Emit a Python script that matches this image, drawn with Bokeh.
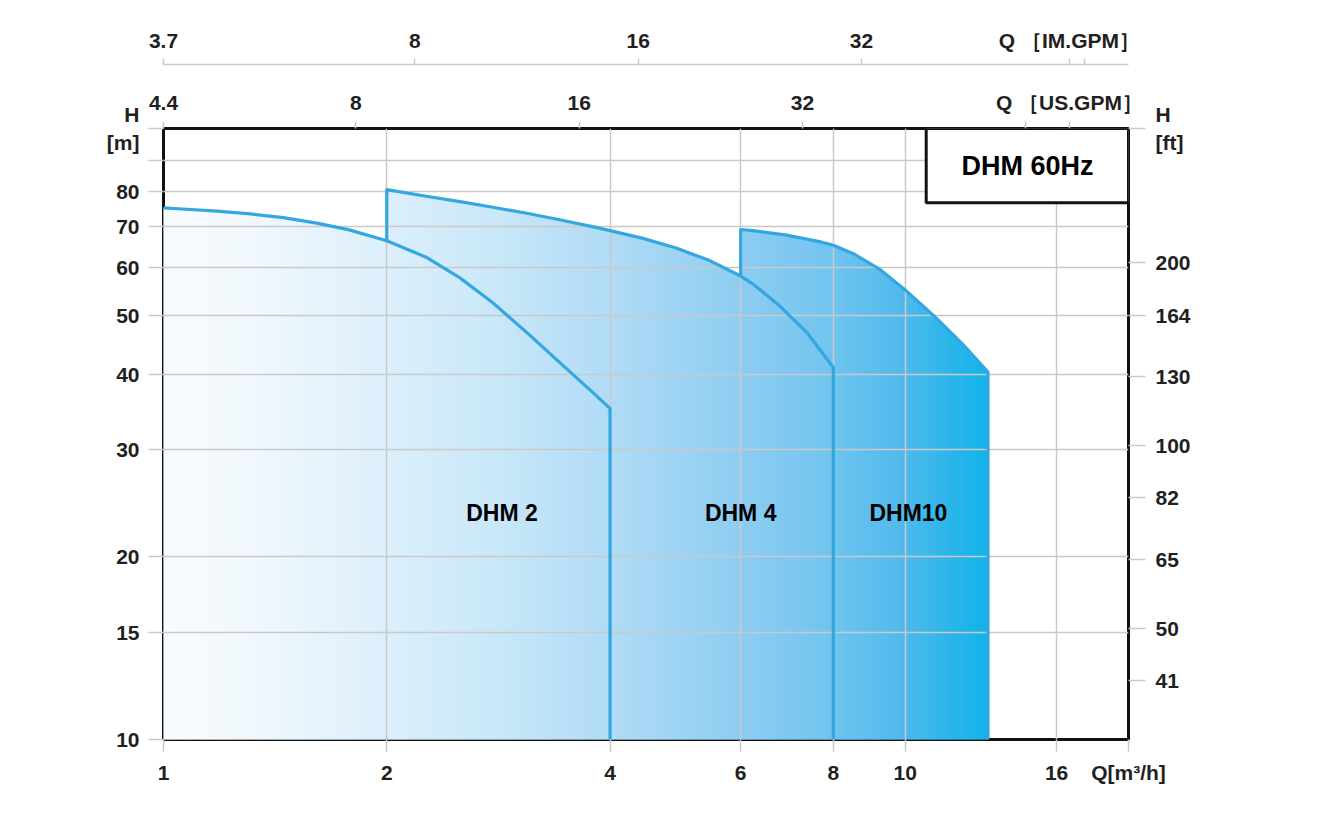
import numpy as np
from bokeh.plotting import figure
from bokeh.models import (Range1d, LogAxis, FixedTicker, Label, BoxAnnotation,
                          LogScale, ColumnDataSource)
from bokeh.embed import file_html
from bokeh.resources import INLINE

# ---------------- data ----------------
dhm2_q = [1, 1.06, 1.18, 1.31, 1.45, 1.61, 1.78, 2, 2.26, 2.51, 2.78, 3.09, 3.42, 3.8, 4]
dhm2_h = [75.1, 74.8, 74.2, 73.4, 72.4, 70.9, 69.1, 66.3, 62.3, 57.6, 52.4, 46.8, 41.8, 37.2, 35.1]
dhm4_q = [2, 2.26, 2.51, 2.78, 3.09, 3.42, 3.8, 4, 4.43, 4.91, 5.45, 6, 6.23, 6.77, 7.36, 8]
dhm4_h = [80.5, 78.5, 76.9, 75.3, 73.6, 71.8, 69.9, 68.9, 66.9, 64.5, 61.5, 58.0, 56.3, 51.8, 46.9, 41.0]
dhm10_q = [6, 6.23, 6.89, 7.66, 8, 8.5, 9.22, 10, 10.96, 11.95, 12.93]
dhm10_h = [69.2, 68.9, 67.8, 66.1, 65.2, 63.2, 59.6, 55.0, 49.7, 44.8, 40.3]

series_names = ["DHM 2", "DHM 4", "DHM10"]
label_q = [2.86, 6.0, 10.1]
label_h = [23.6, 23.6, 23.6]

M_TO_FT = 3.28
M3H_TO_US = 4.403
M3H_TO_IM = 3.666
X0, X1 = 1, 20
Y0, Y1 = 10, 101.5
Q_TITLE = 16.65   # m3/h position under which the GPM axis titles are centred

x_ticks = [1, 2, 4, 6, 8, 10, 16, X1]
x_tick_labels = ["1", "2", "4", "6", "8", "10", "16", "Q[m³/h]"]
y_ticks = [10, 15, 20, 30, 40, 50, 60, 70, 80, 90, Y1]
y_tick_labels = ["10", "15", "20", "30", "40", "50", "60", "70", "80", "", "H\n[m]"]
ft_ticks = [41, 50, 65, 82, 100, 130, 164, 200, Y1 * M_TO_FT]
ft_tick_labels = ["41", "50", "65", "82", "100", "130", "164", "200", "H\n[ft]"]
us_ticks = [4.403, 8, 16, 32, 64, Q_TITLE * M3H_TO_US]
us_tick_labels = ["4.4", "8", "16", "32", "", "Q ［US.GPM］"]
im_ticks = [3.666, 8, 16, 32, Q_TITLE * M3H_TO_IM, 64]
im_tick_labels = ["3.7", "8", "16", "32", "Q ［IM.GPM］", ""]

# ---------------- style ----------------
GRID = "#C9C9C9"
LINE = "#35A7E0"
TXT = "#231F20"
FONT = "Liberation Sans"
grad_q = [1, 1.3, 2, 2.85, 4, 6, 8, 10, 13]
grad_col = ["#F6FBFE", "#F1F8FD", "#DCEFFB", "#C8E7F9", "#B0DBF5",
            "#8ECDF1", "#70C4EF", "#4DBAEC", "#10B2E8"]

# frame placement (pixels)
FR_L, FR_R, FR_T, FR_B = 163, 1128, 128, 739
W, H = 1310, 795


def q_at(px):
    return 10 ** (np.log10(X0) + (px - FR_L) / (FR_R - FR_L) * np.log10(X1 / X0))


def h_at(py):
    return 10 ** (np.log10(Y0) + (FR_B - py) / (FR_B - FR_T) * np.log10(Y1 / Y0))


def hex2rgb(h):
    return [int(h[i:i + 2], 16) for i in (1, 3, 5)]


grad_rgb = np.array([hex2rgb(c) for c in grad_col], dtype=float)
grad_lq = np.log10(grad_q)


def color_at(lq):
    r, g, b = [int(round(np.interp(lq, grad_lq, grad_rgb[:, k]))) for k in range(3)]
    return "#%02X%02X%02X" % (r, g, b)


p = figure(width=W, height=H, x_axis_type="log", y_axis_type="log",
           x_range=Range1d(X0, X1), y_range=Range1d(Y0, Y1),
           output_backend="svg", toolbar_location=None,
           min_border_left=FR_L, min_border_right=W - FR_R,
           min_border_top=FR_T, min_border_bottom=H - FR_B)
p.outline_line_color = "#111111"
p.outline_line_width = 3
p.background_fill_color = "white"
p.border_fill_color = "white"


def style_axis(ax, ticks, labels, tick_out, standoff):
    ax.ticker = FixedTicker(ticks=ticks, minor_ticks=[])
    ax.major_label_overrides = {t: l for t, l in zip(ticks, labels)}
    ax.axis_line_color = None
    ax.major_tick_line_color = GRID
    ax.major_tick_line_width = 1.5
    ax.major_tick_in = 0
    ax.major_tick_out = tick_out
    ax.minor_tick_line_color = None
    ax.major_label_standoff = standoff
    ax.major_label_text_font = FONT
    ax.major_label_text_font_size = "21px"
    ax.major_label_text_font_style = "bold"
    ax.major_label_text_color = TXT


style_axis(p.xaxis[0], x_ticks, x_tick_labels, 12, 9)
style_axis(p.yaxis[0], y_ticks, y_tick_labels, 15, 9)

p.xgrid[0].ticker = FixedTicker(ticks=x_ticks[1:-1], minor_ticks=[])
p.ygrid[0].ticker = FixedTicker(ticks=y_ticks[1:-1], minor_ticks=[])
for g in (p.xgrid[0], p.ygrid[0]):
    g.grid_line_color = GRID
    g.grid_line_width = 1.5

# right axis in ft
p.extra_y_ranges = {"ft": Range1d(Y0 * M_TO_FT, Y1 * M_TO_FT)}
p.extra_y_scales = {"ft": LogScale()}
rax = LogAxis(y_range_name="ft")
style_axis(rax, ft_ticks, ft_tick_labels, 17, 10)
p.add_layout(rax, "right")

# top axes in GPM
p.extra_x_ranges = {"us": Range1d(X0 * M3H_TO_US, X1 * M3H_TO_US),
                    "im": Range1d(X0 * M3H_TO_IM, X1 * M3H_TO_IM)}
p.extra_x_scales = {"us": LogScale(), "im": LogScale()}
us_ax = LogAxis(x_range_name="us")
style_axis(us_ax, us_ticks, us_tick_labels, 7, 8)
us_ax.axis_label = " "
us_ax.axis_label_text_font_size = "2px"
us_ax.axis_label_standoff = 18
us_ax.axis_label_text_color = None
p.add_layout(us_ax, "above")
im_ax = LogAxis(x_range_name="im")
style_axis(im_ax, im_ticks, im_tick_labels, 6, 7)
im_ax.axis_line_color = GRID
im_ax.axis_line_width = 1.5
p.add_layout(im_ax, "above")

# ---------------- gradient fill under the envelope ----------------
segments = [(dhm2_q, dhm2_h, dhm2_q[0], dhm4_q[0]),
            (dhm4_q, dhm4_h, dhm4_q[0], dhm10_q[0]),
            (dhm10_q, dhm10_h, dhm10_q[0], dhm10_q[-1])]
xs_list, ys_list, cols = [], [], []
for q, h, a, b in segments:
    n = max(2, int(round(np.log10(b / a) * 320)))
    lx = np.linspace(np.log10(a), np.log10(b), n + 1)
    ly = np.interp(lx, np.log10(q), np.log10(h))
    for i in range(n):
        xa, xb = 10 ** lx[i], 10 ** lx[i + 1]
        xs_list.append([xa, xa, xb, xb])
        ys_list.append([Y0, 10 ** ly[i], 10 ** ly[i + 1], Y0])
        cols.append(color_at(0.5 * (lx[i] + lx[i + 1])))
fill_src = ColumnDataSource(dict(xs=xs_list, ys=ys_list, c=cols))
fr = p.patches("xs", "ys", source=fill_src, fill_color="c", line_color="c", line_width=1)
fr.level = "image"

# ---------------- curves ----------------
h2_at_2 = dhm2_h[dhm2_q.index(dhm4_q[0])]
h4_at_6 = dhm4_h[dhm4_q.index(dhm10_q[0])]
curves = [
    (dhm2_q + [dhm2_q[-1]], dhm2_h + [Y0]),
    ([dhm4_q[0]] + dhm4_q + [dhm4_q[-1]], [h2_at_2] + dhm4_h + [Y0]),
    ([dhm10_q[0]] + dhm10_q + [dhm10_q[-1]], [h4_at_6] + dhm10_h + [Y0]),
]
for cx, cy in curves:
    p.line(cx, cy, line_color=LINE, line_width=3.2, line_join="round")

for name, lq, lh in zip(series_names, label_q, label_h):
    p.add_layout(Label(x=lq, y=lh, text=name, text_align="center", text_baseline="middle",
                       text_font=FONT, text_font_style="bold", text_font_size="23px",
                       text_color="black"))

# ---------------- title box ----------------
p.add_layout(BoxAnnotation(left=q_at(925.7), right=X1, top=Y1, bottom=h_at(202.3),
                           fill_color="white", fill_alpha=1.0,
                           line_color="#111111", line_alpha=1.0, line_width=3))
p.add_layout(Label(x=q_at(1027), y=h_at(165), text="DHM 60Hz", text_align="center",
                   text_baseline="middle", text_font=FONT, text_font_style="bold",
                   text_font_size="27px", text_color="black"))

open("out.html", "w").write(file_html(p, INLINE))
